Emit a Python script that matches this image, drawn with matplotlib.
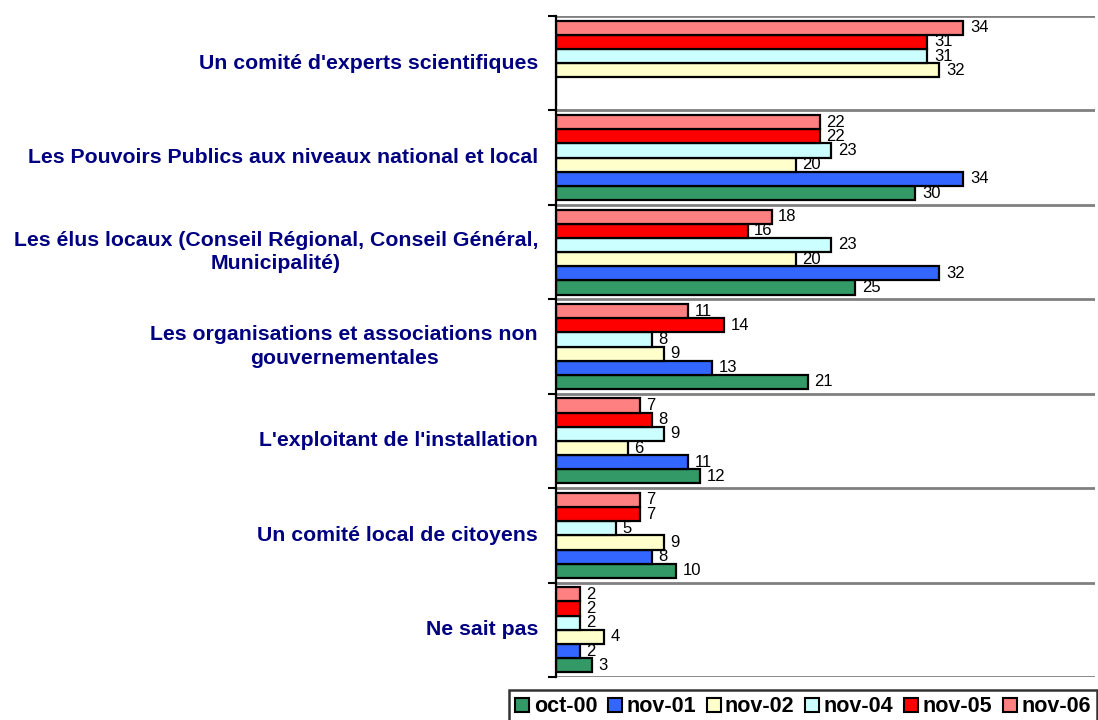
import matplotlib
matplotlib.use("Agg")
import matplotlib.pyplot as plt
import numpy as np
from matplotlib.patches import Patch

plt.rcParams['font.family'] = ['Liberation Sans', 'DejaVu Sans']

categories = [
    "Un comité d'experts scientifiques",
    "Les Pouvoirs Publics aux niveaux national et local",
    "Les élus locaux (Conseil Régional, Conseil Général,\nMunicipalité)",
    "Les organisations et associations non\ngouvernementales",
    "L'exploitant de l'installation",
    "Un comité local de citoyens",
    "Ne sait pas",
]
series = ["oct-00", "nov-01", "nov-02", "nov-04", "nov-05", "nov-06"]
oct00 = [np.nan, 30, 25, 21, 12, 10, 3]
nov01 = [np.nan, 34, 32, 13, 11, 8, 2]
nov02 = [32, 20, 20, 9, 6, 9, 4]
nov04 = [31, 23, 23, 8, 9, 5, 2]
nov05 = [31, 22, 16, 14, 8, 7, 2]
nov06 = [34, 22, 18, 11, 7, 7, 2]
values = [oct00, nov01, nov02, nov04, nov05, nov06]
colors = ["#339966", "#3366FF", "#FFFFCC", "#CCFFFF", "#FF0000", "#FF8080"]

fig = plt.figure(figsize=(10.98, 7.2), dpi=100)
ax = fig.add_axes([556/1098, 1 - 677/720, (1095-556)/1098, (677-16)/720])

n = len(categories)
centers = np.arange(n)  # 0 at top (axis inverted)
h = 0.15
for j, (s, vals, c) in enumerate(zip(series, values, colors)):
    offs = (2.5 - j) * h
    ys = centers + offs
    v = np.array(vals, dtype=float)
    ax.barh(ys, np.nan_to_num(v), height=h, color=c, edgecolor='black',
            linewidth=1.6, label=s, zorder=3)
    for y, val in zip(ys, v):
        if not np.isnan(val):
            ax.text(val + 0.55, y, f"{int(val)}", va='center', ha='left',
                    fontsize=12, color='black', zorder=4)

ax.set_xlim(0, 45)
ax.set_ylim(n - 0.5, -0.5)
bounds = np.arange(n + 1) - 0.5
for b in bounds:
    ax.axhline(b, color='#808080', linewidth=2, zorder=1)
ax.set_yticks(bounds)
ax.set_yticklabels([])
ax.tick_params(axis='y', length=6, width=1.5, direction='out', color='black')
ax.set_xticks([])
for sp in ['top', 'right', 'bottom']:
    ax.spines[sp].set_visible(False)
ax.spines['left'].set_linewidth(1.6)
ax.spines['left'].set_zorder(5)

for i, cat in enumerate(categories):
    fig.text(538/1098, 1 - (16 + (i + 0.5) * 661/7) / 720, cat,
             ha='right', va='center', multialignment='center',
             fontsize=15.3, fontweight='bold', color='#000080', linespacing=1.3)

handles = [Patch(facecolor=c, edgecolor='black', linewidth=1.5) for c in colors]
leg = fig.legend(handles, series, loc='upper right',
                 bbox_to_anchor=(1097/1098, 1 - 690/720),
                 ncol=6, frameon=True, fancybox=False, edgecolor='black',
                 prop={'weight': 'bold', 'size': 15.5}, handlelength=0.65,
                 handleheight=0.65, handletextpad=0.2, columnspacing=0.5,
                 borderpad=0.3, borderaxespad=0)
leg.get_frame().set_linewidth(1.8)

fig.savefig("out.png", dpi=100)
